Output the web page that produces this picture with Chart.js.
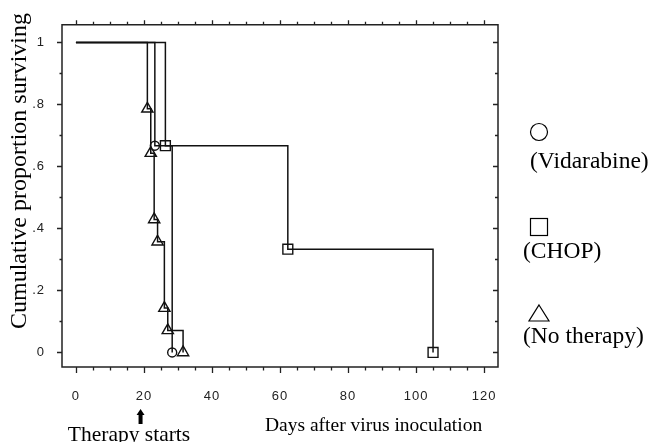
<!DOCTYPE html>
<html><head><meta charset="utf-8">
<script src="https://cdn.jsdelivr.net/npm/chart.js@4/dist/chart.umd.min.js"></script>
<style>html,body{margin:0;padding:0;background:#fff;}#wrap{width:654px;height:442px;position:relative;}</style>
</head><body><div id="wrap"><canvas id="c"></canvas></div>
<script>
// ---- data ----
const vidarabineDays = [0, 23.2, 28.3];
const vidarabineSurv = [1, 0.667, 0];
const chopDays = [0, 26.3, 62.3, 105];
const chopSurv = [1, 0.667, 0.333, 0];
const noTherapyDays = [0, 21, 22, 23, 24, 26, 27, 31.5];
const noTherapySurv = [1, 0.786, 0.643, 0.429, 0.357, 0.143, 0.071, 0];
const xTickValues = [0, 20, 40, 60, 80, 100, 120];
const xTickLabels = ['0', '20', '40', '60', '80', '100', '120'];
const yTickValues = [0, 0.2, 0.4, 0.6, 0.8, 1];
const yTickLabels = ['0', '.2', '.4', '.6', '.8', '1'];
const seriesNames = ['(Vidarabine)', '(CHOP)', '(No therapy)'];
const xTitle = 'Days after virus inoculation';
const yTitle = 'Cumulative proportion surviving';
const therapyLabel = 'Therapy starts';
const therapyStartDay = 19;

const INK = '#111';
const SERIF = '"Liberation Serif", "Times New Roman", serif';

function toPoints(xs, ys) { return xs.map((x, i) => ({x: x, y: ys[i]})); }
function markerRadius(r) { return ctx => ctx.dataIndex === 0 ? 0 : r; }

const ds = (name, xs, ys, style, r) => ({
  label: name, data: toPoints(xs, ys), showLine: true, stepped: true,
  borderColor: INK, borderWidth: 1.5, backgroundColor: 'rgba(0,0,0,0)',
  pointStyle: style, pointRadius: markerRadius(r), pointBorderColor: INK,
  pointBorderWidth: 1.4, pointBackgroundColor: 'rgba(0,0,0,0)'
});

const spacingPlugin = {
  id: 'tickSpacing',
  beforeDraw(chart) { chart.ctx.letterSpacing = '1px'; },
  beforeDatasetsDraw(chart) { chart.ctx.letterSpacing = '0px'; }
};

const framePlugin = {
  id: 'frame',
  afterDraw(chart) {
    const c = chart.ctx, a = chart.chartArea;
    const xs = chart.scales.x, ys = chart.scales.y;
    c.save();
    c.letterSpacing = '0px';
    c.strokeStyle = '#222'; c.lineWidth = 1.5; c.lineCap = 'square';
    c.beginPath();
    c.moveTo(a.left, a.top); c.lineTo(a.left, a.bottom); c.lineTo(a.right, a.bottom);
    c.lineTo(a.right, a.top); c.lineTo(a.left, a.top);
    c.stroke();
    c.lineWidth = 1.3; c.lineCap = 'butt';
    c.beginPath();
    for (let d = 0; d <= 120; d += 5) {
      const px = Math.round(xs.getPixelForValue(d)) + 0.5;
      const major = d % 20 === 0;
      c.moveTo(px, a.bottom); c.lineTo(px, a.bottom + (major ? 6 : 3.5));
      c.moveTo(px, a.top); c.lineTo(px, a.top - (major ? 4.5 : 3));
    }
    for (let k = 0; k <= 10; k++) {
      const v = k / 10;
      const py = Math.round(ys.getPixelForValue(v)) + 0.5;
      const major = k % 2 === 0;
      c.moveTo(a.left, py); c.lineTo(a.left - (major ? 5 : 2.5), py);
      c.moveTo(a.right, py); c.lineTo(a.right - (major ? 5 : 3), py);
    }
    c.stroke();

    // texts
    c.fillStyle = '#000';
    c.font = '24px ' + SERIF;
    c.save();
    c.translate(20, 171); c.rotate(-Math.PI / 2);
    c.textAlign = 'center'; c.textBaseline = 'middle';
    c.fillText(yTitle, 0, 0);
    c.restore();

    c.font = '19.5px ' + SERIF;
    c.textAlign = 'left'; c.textBaseline = 'alphabetic';
    c.fillText(xTitle, 265, 431);
    c.font = '21.5px ' + SERIF;
    c.textAlign = 'center';
    c.fillText(therapyLabel, 129, 441);

    // arrow
    const ax = xs.getPixelForValue(therapyStartDay);
    c.beginPath();
    c.moveTo(ax - 2, 424); c.lineTo(ax - 2, 415); c.lineTo(ax - 4, 415);
    c.lineTo(ax, 409); c.lineTo(ax + 4, 415); c.lineTo(ax + 2, 415); c.lineTo(ax + 2, 424);
    c.closePath(); c.fill();

    // legend
    c.strokeStyle = '#000'; c.lineWidth = 1.2;
    c.beginPath(); c.arc(539, 132, 8.5, 0, Math.PI * 2); c.stroke();
    c.strokeRect(530.5, 218.5, 17, 17);
    c.beginPath(); c.moveTo(539, 305); c.lineTo(549, 321); c.lineTo(529, 321); c.closePath(); c.stroke();
    c.font = '23.5px ' + SERIF;
    c.textAlign = 'left'; c.textBaseline = 'middle';
    c.fillText(seriesNames[0], 530, 162);
    c.fillText(seriesNames[1], 523, 252);
    c.fillText(seriesNames[2], 523, 337);
    c.restore();
  }
};

new Chart(document.getElementById('c'), {
  type: 'scatter',
  data: {
    datasets: [
      ds(seriesNames[0], vidarabineDays, vidarabineSurv, 'circle', 4.5),
      ds(seriesNames[1], chopDays, chopSurv, 'rect', 7),
      ds(seriesNames[2], noTherapyDays, noTherapySurv, 'triangle', 6.5)
    ]
  },
  options: {
    responsive: true, maintainAspectRatio: false, animation: false, events: [],
    layout: {padding: {left: 0, top: 16, right: 156, bottom: 0}},
    plugins: {legend: {display: false}, tooltip: {enabled: false}},
    scales: {
      x: {
        type: 'linear', min: -4.1, max: 124.1,
        grid: {display: false, drawTicks: false}, border: {display: false},
        afterBuildTicks: s => { s.ticks = xTickValues.map(v => ({value: v})); },
        afterFit: s => { s.height = 75; },
        ticks: {autoSkip: false, maxRotation: 0, padding: 22, color: '#222',
          font: {family: '"Liberation Sans", Arial, sans-serif', size: 13},
          callback: v => xTickLabels[xTickValues.indexOf(v)]}
      },
      y: {
        type: 'linear', min: -0.047, max: 1.057,
        grid: {display: false, drawTicks: false}, border: {display: false},
        afterBuildTicks: s => { s.ticks = yTickValues.map(v => ({value: v})); },
        afterFit: s => { s.width = 62; },
        ticks: {autoSkip: false, padding: 17, color: '#222',
          font: {family: '"Liberation Sans", Arial, sans-serif', size: 13},
          callback: v => yTickLabels[yTickValues.indexOf(v)]}
      }
    }
  },
  plugins: [spacingPlugin, framePlugin]
});
</script></body></html>
